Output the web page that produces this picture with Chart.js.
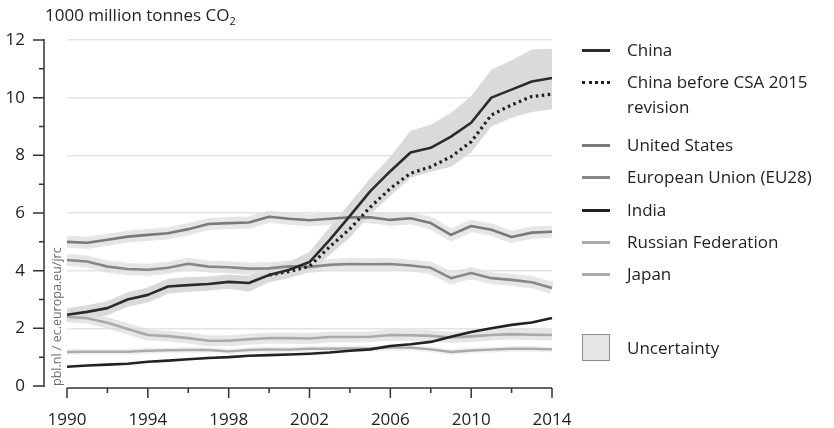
<!DOCTYPE html>
<html>
<head>
<meta charset="utf-8">
<script src="https://cdn.jsdelivr.net/npm/chart.js@4"></script>
<style>
  html, body { margin: 0; padding: 0; background: #fff; }
  #wrap { position: relative; width: 834px; height: 428px; font-family: 'Open Sans', sans-serif; color: #222; }
  #chart { position: absolute; left: 0; top: 0; }
  .title { position: absolute; left: 45px; top: 3px; font-size: 17px; }
  .title sub { font-size: 11px; vertical-align: -4px; }
  .leg { position: absolute; left: 627px; font-size: 17px; line-height: 25px; }
  .sw { position: absolute; left: 582px; width: 28px; height: 0; }
  .box { position: absolute; left: 582px; top: 334px; width: 28px; height: 27px; background: #e6e6e6; border: 1px solid #8a8a8a; box-sizing: border-box; }
</style>
</head>
<body>
<div id="wrap">
  <canvas id="chart" width="834" height="428"></canvas>
  <div class="title">1000 million tonnes CO<sub>2</sub></div>

  <div class="sw" style="top:49px;border-top:3px solid #2b2b2b"></div>
  <div class="leg" style="top:37px">China</div>
  <div class="sw" style="top:81px;border-top:3px dotted #222"></div>
  <div class="leg" style="top:69px">China before CSA 2015<br>revision</div>
  <div class="sw" style="top:144px;border-top:3px solid #7a7a7a"></div>
  <div class="leg" style="top:132px">United States</div>
  <div class="sw" style="top:176px;border-top:3px solid #878787"></div>
  <div class="leg" style="top:164px">European Union (EU28)</div>
  <div class="sw" style="top:209px;border-top:3px solid #222"></div>
  <div class="leg" style="top:197px">India</div>
  <div class="sw" style="top:241px;border-top:3px solid #a9a9a9"></div>
  <div class="leg" style="top:229px">Russian Federation</div>
  <div class="sw" style="top:273px;border-top:3px solid #ababab"></div>
  <div class="leg" style="top:261px">Japan</div>
  <div class="box"></div>
  <div class="leg" style="top:335px">Uncertainty</div>
</div>
<script>
const years = ['1990','1991','1992','1993','1994','1995','1996','1997','1998','1999','2000','2001','2002',
  '2003','2004','2005','2006','2007','2008','2009','2010','2011','2012','2013','2014'];

const china = [2.47, 2.57, 2.7, 3.0, 3.16, 3.45, 3.5, 3.54, 3.61, 3.57, 3.85, 4.03, 4.3,
  5.07, 5.9, 6.75, 7.45, 8.1, 8.26, 8.65, 9.13, 10.0, 10.28, 10.56, 10.68];
const chinaOld = [null, null, null, null, null, null, null, null, null, null, 3.85, 3.97, 4.15,
  4.83, 5.45, 6.2, 6.85, 7.38, 7.6, 7.95, 8.47, 9.4, 9.75, 10.04, 10.12];
const chinaUpper = [2.7, 2.8, 2.95, 3.25, 3.42, 3.72, 3.78, 3.8, 3.87, 3.82, 4.12, 4.3, 4.66,
  5.5, 6.35, 7.2, 7.95, 8.85, 9.06, 9.47, 10.05, 10.97, 11.3, 11.67, 11.7];
const chinaLower = [2.25, 2.33, 2.45, 2.75, 2.9, 3.2, 3.27, 3.3, 3.37, 3.27, 3.6, 3.75, 3.95,
  4.55, 5.15, 5.95, 6.6, 7.22, 7.43, 7.6, 8.1, 9.0, 9.3, 9.5, 9.6];
const us = [5.0, 4.97, 5.07, 5.18, 5.24, 5.3, 5.44, 5.62, 5.65, 5.67, 5.87, 5.8, 5.75,
  5.8, 5.85, 5.85, 5.76, 5.82, 5.65, 5.24, 5.55, 5.42, 5.17, 5.32, 5.35];
const eu = [4.37, 4.32, 4.14, 4.06, 4.03, 4.1, 4.24, 4.14, 4.12, 4.07, 4.08, 4.15, 4.13,
  4.2, 4.23, 4.22, 4.23, 4.18, 4.1, 3.74, 3.92, 3.74, 3.68, 3.6, 3.4];
const india = [0.67, 0.71, 0.74, 0.77, 0.84, 0.88, 0.93, 0.97, 1.0, 1.05, 1.07, 1.09, 1.12,
  1.16, 1.22, 1.27, 1.39, 1.45, 1.53, 1.71, 1.87, 2.0, 2.12, 2.2, 2.36];
const russia = [2.4, 2.35, 2.19, 1.98, 1.77, 1.73, 1.66, 1.57, 1.57, 1.62, 1.66, 1.66, 1.65,
  1.7, 1.7, 1.71, 1.77, 1.76, 1.74, 1.68, 1.72, 1.77, 1.8, 1.78, 1.77];
const japan = [1.18, 1.19, 1.19, 1.19, 1.22, 1.24, 1.25, 1.25, 1.2, 1.25, 1.27, 1.26, 1.29,
  1.29, 1.3, 1.3, 1.33, 1.33, 1.27, 1.18, 1.23, 1.26, 1.29, 1.29, 1.27];
const yTicks = [0, 2, 4, 6, 8, 10, 12];
const xLabelEvery = 4;

const line = (data, color, width, extra) => Object.assign({
  data, borderColor: color, borderWidth: width, pointRadius: 0, tension: 0, fill: false,
  borderJoinStyle: 'round', borderCapStyle: 'butt', spanGaps: false
}, extra || {});

const haloColor = 'rgba(222,222,222,0.75)';

const axesPlugin = {
  id: 'axes',
  afterDraw(chart) {
    const { ctx, chartArea: a, scales: { x, y } } = chart;
    ctx.save();
    ctx.strokeStyle = '#333';
    ctx.lineWidth = 1.5;
    const ax = 44;
    ctx.beginPath();
    ctx.moveTo(ax, y.getPixelForValue(12) - 1);
    ctx.lineTo(ax, y.getPixelForValue(0) + 1);
    for (let v = 0; v <= 12; v++) {
      const py = y.getPixelForValue(v);
      ctx.moveTo(ax, py);
      ctx.lineTo(ax - (v % 2 ? 5 : 11), py);
    }
    const yb = a.bottom + 2;
    ctx.moveTo(x.getPixelForValue(0), yb);
    ctx.lineTo(x.getPixelForValue(years.length - 1), yb);
    for (let i = 0; i < years.length; i += 2) {
      const px = x.getPixelForValue(i);
      ctx.moveTo(px, yb);
      ctx.lineTo(px, yb + (i % 4 ? 5 : 10));
    }
    ctx.stroke();

    ctx.translate(57, y.getPixelForValue(0));
    ctx.rotate(-Math.PI / 2);
    ctx.fillStyle = '#6a6a6a';
    ctx.font = '12.5px "Open Sans"';
    ctx.textAlign = 'left';
    ctx.textBaseline = 'middle';
    ctx.fillText('pbl.nl / ec.europa.eu/jrc', 0, 0);
    ctx.restore();
  }
};

new Chart(document.getElementById('chart'), {
  type: 'line',
  data: {
    labels: years,
    datasets: [
      line(china, '#2b2b2b', 2.6),
      line(chinaOld, '#1e1e1e', 3.2, { borderDash: [2.5, 3.5], borderCapStyle: 'butt' }),
      line(india, '#222', 2.6),
      line(us, '#7a7a7a', 2.6),
      line(eu, '#878787', 2.6),
      line(russia, '#a9a9a9', 2.6),
      line(japan, '#ababab', 2.4),
      line(us, haloColor, 12),
      line(eu, haloColor, 12),
      line(russia, haloColor, 11),
      line(japan, 'rgba(232,232,232,0.6)', 6),
      line(chinaUpper, 'rgba(0,0,0,0)', 0, { fill: '+1', backgroundColor: '#dadada' }),
      line(chinaLower, 'rgba(0,0,0,0)', 0)
    ]
  },
  options: {
    responsive: false,
    animation: false,
    events: [],
    layout: { padding: { left: 0, right: 282, top: 40, bottom: 0 } },
    plugins: { legend: { display: false }, tooltip: { enabled: false } },
    scales: {
      x: {
        type: 'category',
        offset: false,
        grid: { display: false },
        border: { display: false },
        afterFit: s => { s.height = 42; s.paddingLeft = 0; s.paddingRight = 0; },
        ticks: {
          autoSkip: false,
          maxRotation: 0,
          padding: 16,
          color: '#222',
          font: { family: 'Open Sans', size: 17 },
          callback: (v, i) => (i % xLabelEvery === 0 ? years[i] : null)
        }
      },
      y: {
        min: 0,
        max: 12,
        afterFit: s => { s.width = 67; s.paddingTop = 0; s.paddingBottom = 0; },
        afterBuildTicks: s => { s.ticks = yTicks.map(v => ({ value: v })); },
        border: { display: false },
        grid: {
          drawTicks: false,
          lineWidth: 1.5,
          color: c => (c.tick && c.tick.value === 0 ? 'rgba(0,0,0,0)' : '#e4e4e4')
        },
        ticks: {
          padding: 42,
          color: '#222',
          font: { family: 'Open Sans', size: 17 }
        }
      }
    }
  },
  plugins: [axesPlugin]
});
</script>
</body>
</html>
